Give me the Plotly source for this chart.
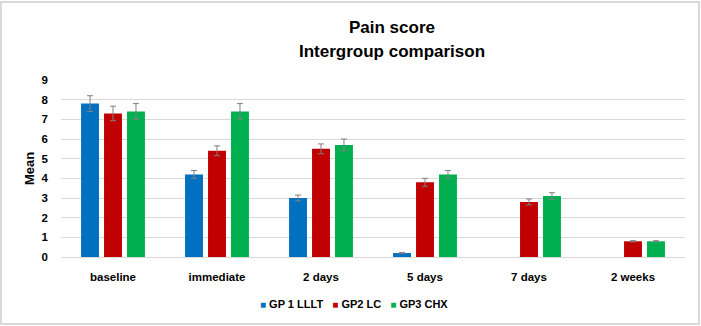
import plotly.graph_objects as go

categories = ["baseline", "immediate", "2 days", "5 days", "7 days", "2 weeks"]
gp1 = [7.8, 4.2, 3.0, 0.2, None, None]
gp1_err = [0.4, 0.2, 0.15, 0.03, None, None]
gp2 = [7.3, 5.4, 5.5, 3.8, 2.8, 0.8]
gp2_err = [0.37, 0.25, 0.25, 0.2, 0.15, 0.03]
gp3 = [7.4, 7.4, 5.7, 4.2, 3.1, 0.8]
gp3_err = [0.4, 0.4, 0.3, 0.2, 0.17, 0.03]
names = ["GP 1 LLLT", "GP2 LC", "GP3 CHX"]
colors = ["#0070C0", "#C00000", "#00B050"]
title_lines = ["Pain score", "Intergroup comparison"]

W, H = 701, 326
L, R, T, B = 61, 16, 80, 69
pw, ph = W - L - R, H - T - B

def py(y_px):
    return 1 - (y_px - T) / ph

font = "Liberation Sans"
fig = go.Figure()
for vals, errs, name, col in zip([gp1, gp2, gp3], [gp1_err, gp2_err, gp3_err], names, colors):
    fig.add_trace(go.Bar(
        x=categories, y=vals, name=name, showlegend=False,
        marker=dict(color=col, line=dict(width=0)),
        error_y=dict(type="data", array=errs, visible=True, color="#808080", thickness=1, width=3),
    ))

legend_text = "&nbsp;&nbsp;&nbsp;".join(
    f'<span style="color:{c}; font-size:10px">■</span> <b>{n}</b>' for n, c in zip(names, colors)
)

annotations = [dict(text=legend_text, xref="paper", yref="paper", x=(354 - L) / pw, xanchor="center",
                    y=py(304), yanchor="middle", showarrow=False,
                    font=dict(family=font, size=11, color="#000000"))]
for line, ypx in zip(title_lines, [27, 52]):
    annotations.append(dict(text=f"<b>{line}</b>", xref="paper", yref="paper", x=(392 - L) / pw,
                            xanchor="center", y=py(ypx), yanchor="middle", showarrow=False,
                            font=dict(family=font, size=17, color="#000000")))

fig.update_layout(
    width=W, height=H, margin=dict(l=L, r=R, t=T, b=B, autoexpand=False),
    paper_bgcolor="white", plot_bgcolor="white",
    barmode="group", bargap=0.337, bargroupgap=0.22,
    font=dict(family=font, size=11, color="#000000"),
    annotations=annotations,
    xaxis=dict(showline=True, linecolor="#d9d9d9", linewidth=1, ticks="", automargin=False,
               ticklabelstandoff=9, tickprefix="<b>", ticksuffix="</b>",
               tickfont=dict(family=font, size=11.5, color="#000000")),
    yaxis=dict(range=[0, 9], dtick=1, gridcolor="#d9d9d9", gridwidth=1, zeroline=False, automargin=False,
               ticklabelstandoff=12, tickprefix="<b>", ticksuffix="</b>",
               tickfont=dict(family=font, size=11.5, color="#000000"),
               title=dict(text="<b>Mean</b>", font=dict(family=font, size=13, color="#000000"), standoff=4)),
    shapes=[dict(type="rect", xref="paper", yref="paper",
                 x0=(1 - L) / pw, x1=(W - 2 - L) / pw, y0=-(B - 2) / ph, y1=1 + (T - 2) / ph,
                 line=dict(color="#d9d9d9", width=2), fillcolor="rgba(0,0,0,0)", layer="below")],
)
fig.write_html("out.html")
